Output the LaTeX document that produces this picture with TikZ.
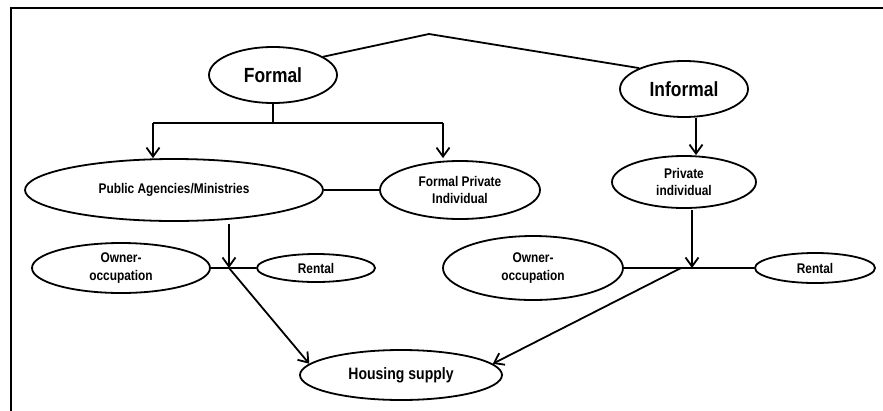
\documentclass[tikz,border=0pt]{standalone}
\usepackage{fontspec}
\setmainfont{Liberation Sans}[FakeStretch=0.85]
\usetikzlibrary{arrows.meta,shapes.geometric}
\tikzset{
  el/.style={draw, ellipse, line width=1.8pt, inner sep=0pt, align=center, font=\bfseries\fontsize{14}{17.5}\selectfont},
  big/.style={font=\bfseries\fontsize{20.5}{24}\selectfont},
  ln/.style={line width=1.8pt},
  arr/.style={line width=1.8pt, -{Straight Barb[length=9pt,width=13pt,line width=1.8pt]}},
}
\begin{document}
\begin{tikzpicture}[x=1pt,y=-1pt]
\useasboundingbox (0,0) rectangle (883,410);
\draw[ln] (11,412) -- (11,8) -- (885,8);
% nodes
\node[el,big, minimum width=128pt, minimum height=56pt] (formal) at (273,75) {Formal};
\node[el,big, minimum width=128pt, minimum height=56pt] (informal) at (684,89) {Informal};
\node[el, minimum width=298pt, minimum height=62pt] (pa) at (174,190) {Public Agencies/Ministries};
\node[el, minimum width=160pt, minimum height=58pt] (fpi) at (460,190) {Formal Private\\Individual};
\node[el, minimum width=144pt, minimum height=52pt] (pi) at (684,182) {Private\\individual};
\node[el, minimum width=178pt, minimum height=50pt] (ool) at (121,268) {Owner-\\occupation};
\node[el, minimum width=118pt, minimum height=28pt] (rl) at (316,268) {Rental};
\node[el, minimum width=180pt, minimum height=64pt] (oor) at (533,268) {Owner-\\occupation};
\node[el, minimum width=120pt, minimum height=30pt] (rr) at (815,268) {Rental};
\node[el, minimum width=202pt, minimum height=50pt, font=\bfseries\fontsize{16.5}{20}\selectfont] (hs) at (401,375) {Housing supply};
% coordinates
\coordinate (apex) at (429,34);
\coordinate (fj) at (273,123);
\coordinate (fl) at (153,123);
\coordinate (fr) at (443,123);
\coordinate (lj) at (229,268);
\coordinate (rj) at (692,268);
\coordinate (rd) at (681,268);
% connectors
\draw[ln] (formal.20) -- (apex) -- (informal.155);
\draw[ln] (formal) -- (fj);
\draw[ln] (fl) -- (fr);
\draw[arr] (fl) -- (fl |- pa.north);
\draw[arr] (fr) -- ([yshift=2pt]fr |- fpi.north);
\draw[ln] (pa) -- (fpi);
\draw[arr] ([xshift=12pt]informal.south) -- ([xshift=12pt]pi.north);
\draw[arr] ([yshift=-2pt]pa.south -| lj) -- (lj);
\draw[ln] (ool) -- (rl);
\draw[arr] (lj) -- (hs.173);
\draw[arr] ([yshift=-1pt]pi.south -| rj) -- (rj);
\draw[ln] (oor) -- (rr);
\draw[arr] (rd) -- (hs.7);
\end{tikzpicture}
\end{document}
